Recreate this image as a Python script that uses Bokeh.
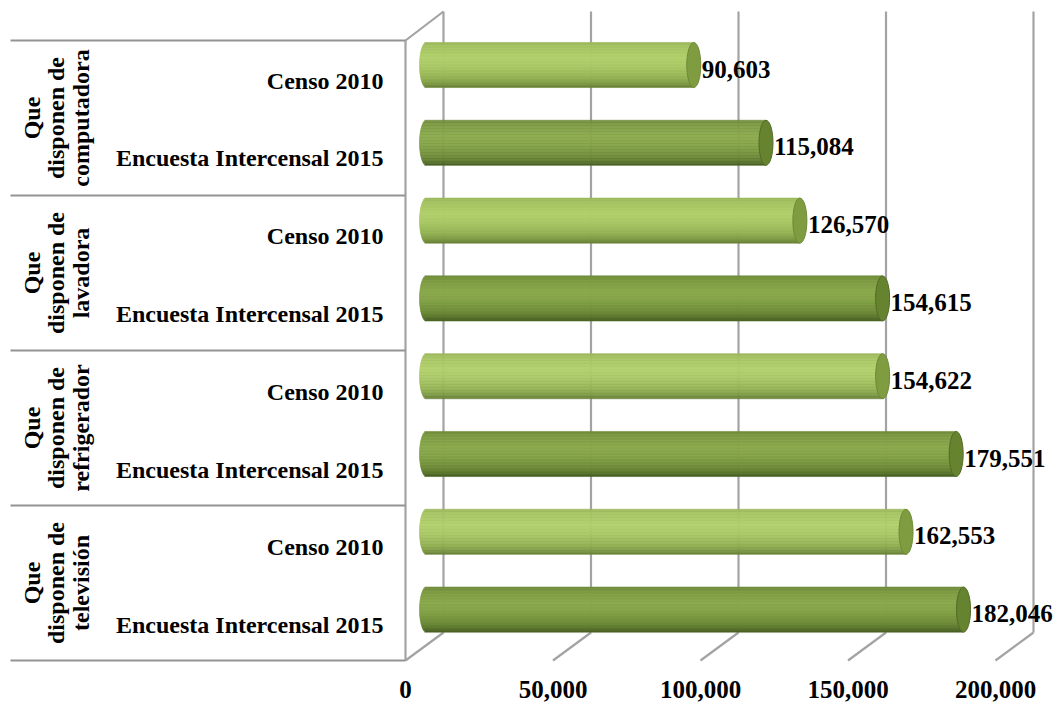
import numpy as np
from bokeh.plotting import figure
from bokeh.models import Range1d, ColumnDataSource
from bokeh.core.properties import value
from bokeh.embed import file_html
from bokeh.resources import INLINE

# ---------------- data ----------------
GROUPS = ["Que\ndisponen de\ncomputadora",
          "Que\ndisponen de\nlavadora",
          "Que\ndisponen de\nrefrigerador",
          "Que\ndisponen de\ntelevisión"]
SERIES = ["Censo 2010", "Encuesta Intercensal 2015"]
CENSO_2010 = [90603, 126570, 154622, 162553]
ENCUESTA_2015 = [115084, 154615, 179551, 182046]
TICKS = [0, 50000, 100000, 150000, 200000]
TICK_LABELS = ["0", "50,000", "100,000", "150,000", "200,000"]

# ---------------- geometry (layout only) ----------------
W, H = 1058, 703
PX_PER_VAL = 147.5 / 50000.0       # horizontal scale
ZERO_PAGE_X = 426.0                # page x of value 0 on bar plane
ROW_PX = 77.8                      # pixel distance between bars
ROW0_PAGE_Y = 64.5                 # page y of first bar centre
MARGIN = 0

def X(page_x):
    return (page_x - ZERO_PAGE_X) / PX_PER_VAL

def DX(px):
    return px / PX_PER_VAL

def Y(page_y):
    return -(page_y - ROW0_PAGE_Y) / ROW_PX

def DY(px):  # positive px = downward on screen
    return -px / ROW_PX

x_range = Range1d(X(MARGIN), X(MARGIN + W))
y_range = Range1d(Y(MARGIN + H), Y(MARGIN))

p = figure(width=W, height=H, x_range=x_range, y_range=y_range,
           output_backend="svg", toolbar_location=None, min_border=0,
           x_axis_type=None, y_axis_type=None)
p.grid.visible = False
p.outline_line_color = None
p.background_fill_color = "white"

FONT = value("Liberation Serif")
GRID_COLOR = "#a3a3a3"

# 3-D frame
FX, BX = DX(-21), DX(17)            # front / back horizontal shift
FT, FB = Y(40), Y(660)              # front plane top / bottom
BT, BB = Y(11), Y(632)              # back plane top / bottom

ticks = np.array(TICKS, dtype=float)
# back-wall gridlines
p.segment(x0=ticks + BX, y0=[BT] * len(ticks), x1=ticks + BX, y1=[BB] * len(ticks),
          line_color=GRID_COLOR, line_width=2.2)
# floor lines
p.segment(x0=ticks + FX, y0=[FB] * len(ticks), x1=ticks + BX, y1=[BB] * len(ticks),
          line_color=GRID_COLOR, line_width=2.2)
# left wall top edge + front vertical edge
p.segment(x0=[FX, FX], y0=[FT, FT], x1=[BX, FX], y1=[BT, FB],
          line_color=GRID_COLOR, line_width=2.2)

# category table lines
n_groups = len(GROUPS)
bounds = [FT + k * (FB - FT) / n_groups for k in range(n_groups + 1)]
p.segment(x0=[X(10)] * len(bounds), y0=bounds, x1=[FX] * len(bounds), y1=bounds,
          line_color="#939393", line_width=2.2)

# ---------------- bars (cylinders) ----------------
values = []
rows = []
series_idx = []
for g in range(n_groups):
    for s, arr in enumerate([CENSO_2010, ENCUESTA_2015]):
        values.append(arr[g])
        rows.append(-(2 * g + s))
        series_idx.append(s)

BAR_PX = 45.0
CAP_PX = 7.0
N_STRIPES = 30
STOPS = [
    [(0.0, "#9ab65a"), (0.1, "#a6c462"), (0.35, "#b1d06b"), (0.55, "#a9c865"),
     (0.8, "#93b153"), (0.93, "#7c9843"), (1.0, "#667f36")],
    [(0.0, "#6e8a3a"), (0.1, "#7c9a42"), (0.35, "#8aa94c"), (0.55, "#84a347"),
     (0.8, "#6f8d39"), (0.93, "#5a752d"), (1.0, "#465d22")],
]
CAP_FILL = ["#7f9d40", "#66832f"]
CAP_LINE = ["#6c8936", "#526b27"]

def hex2rgb(h):
    h = h.lstrip("#")
    return np.array([int(h[i:i + 2], 16) for i in (0, 2, 4)], dtype=float)

def grad(stops, t):
    for (t0, c0), (t1, c1) in zip(stops[:-1], stops[1:]):
        if t0 <= t <= t1:
            f = (t - t0) / (t1 - t0)
            c = hex2rgb(c0) * (1 - f) + hex2rgb(c1) * f
            return "#%02x%02x%02x" % tuple(int(round(v)) for v in c)
    return stops[-1][1]

bar_h = abs(DY(BAR_PX))
stripe_h = bar_h / N_STRIPES
sy, sl, sr, sc = [], [], [], []
for v, r, s in zip(values, rows, series_idx):
    for j in range(N_STRIPES):
        t = (j + 0.5) / N_STRIPES
        yc = r + bar_h / 2 - t * bar_h
        u = 2 * t - 1
        left = -DX(CAP_PX) * np.sqrt(max(0.0, 1 - u * u))
        sy.append(yc)
        sl.append(left)
        sr.append(v)
        sc.append(grad(STOPS[s], t))
p.hbar(y=sy, height=stripe_h * 1.05, left=sl, right=sr, fill_color=sc,
       line_color=sc, line_width=0.6)

cap_src = ColumnDataSource(dict(
    x=values, y=rows,
    fill=[CAP_FILL[s] for s in series_idx],
    line=[CAP_LINE[s] for s in series_idx]))
p.ellipse(x="x", y="y", width=2 * CAP_PX, height=BAR_PX, width_units="screen",
          height_units="screen", fill_color="fill", line_color="line",
          line_width=1, source=cap_src)

# value labels
p.text(x=[v + DX(CAP_PX + 1) for v in values], y=[r + DY(4) for r in rows],
       text=[f"{v:,}" for v in values], text_font=FONT, text_font_style="bold",
       text_font_size="25px", text_color="black", text_align="left",
       text_baseline="middle")

# series labels
p.text(x=[X(383)] * len(rows), y=[r + DY(15.5) for r in rows],
       text=[SERIES[s] for s in series_idx], text_font=FONT,
       text_font_style="bold", text_font_size="24px", text_color="black",
       text_align="right", text_baseline="middle")

# group labels (rotated)
gy = [(bounds[k] + bounds[k + 1]) / 2 for k in range(n_groups)]
p.text(x=[X(56)] * n_groups, y=gy, text=GROUPS, angle=np.pi / 2,
       text_font=FONT, text_font_style="bold", text_font_size="24px",
       text_color="black", text_align="center", text_baseline="middle",
       text_line_height=0.95)

# value axis tick labels (front edge of floor)
p.text(x=ticks + FX, y=[Y(689)] * len(ticks), text=TICK_LABELS, text_font=FONT,
       text_font_style="bold", text_font_size="25px", text_color="black",
       text_align="center", text_baseline="middle")

open("out.html", "w").write(file_html(p, INLINE))
